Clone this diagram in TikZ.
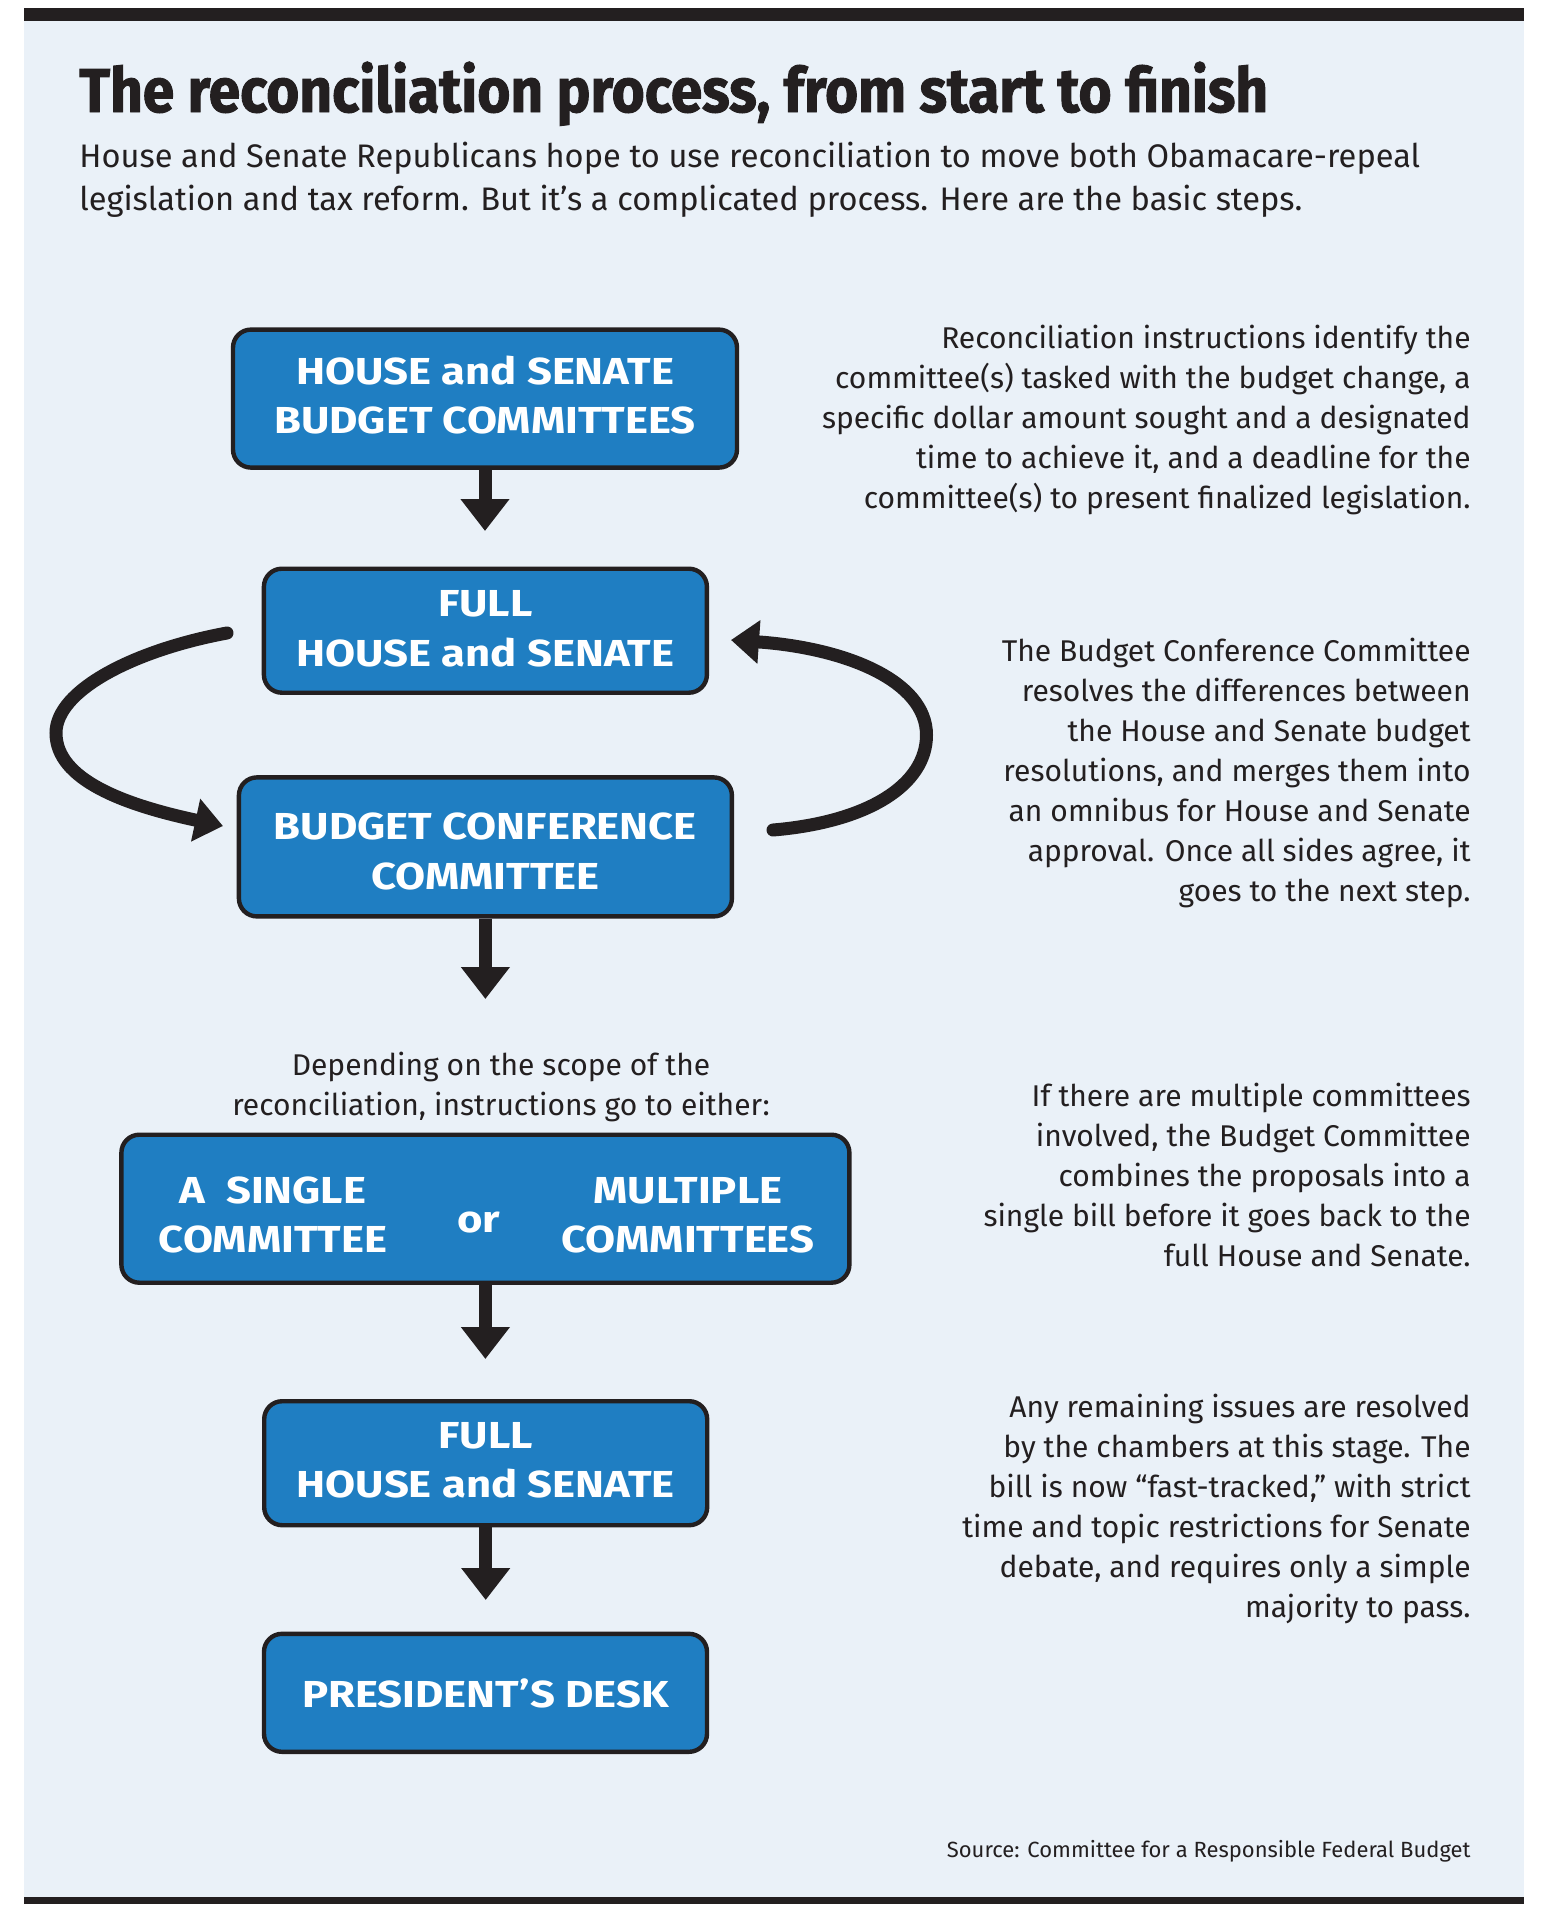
\documentclass[tikz,border=0pt]{standalone}
\usepackage{fontspec}
\setmainfont{Fira Sans}
\newfontfamily\titlefam{Fira Sans}[FakeStretch=0.916, FakeBold=1.5]
\newfontfamily\boxfam{Fira Sans}[FakeStretch=1.16]
\usetikzlibrary{arrows.meta}
\definecolor{bgblue}{HTML}{EAF1F8}
\definecolor{ink}{HTML}{231F20}
\definecolor{boxblue}{HTML}{1F7EC2}
\newcommand\boxfont{\boxfam\fontsize{18.8}{24.75}\selectfont\bfseries}
\newcommand\notefont{\fontsize{15}{20}\selectfont}
\newcommand\subfont{\fontsize{16.3}{21.5}\selectfont}
\tikzset{
  stepbox/.style={draw=ink, line width=2.2pt, fill=boxblue, rounded corners=9pt, inner sep=0pt},
  boxtext/.style={text=white, font=\boxfont, align=center, inner sep=0pt, anchor=north},
  downarrow/.style={draw=ink, line width=6.5pt, -{Triangle[width=23.5pt,length=16pt]}},
  looparrow/.style={draw=ink, line width=6.5pt, line cap=round, -{Triangle[width=21pt,length=14pt]}},
  note/.style={text=ink, font=\notefont, align=right, anchor=north east, inner sep=0pt},
}
\begin{document}
\begin{tikzpicture}[x=0.5pt,y=-0.5pt]
\useasboundingbox (0,0) rectangle (1550,1927);
\fill[white] (0,0) rectangle (1550,1927);
\fill[bgblue] (24,20) rectangle (1524,1898);
\fill[ink] (24,8) rectangle (1524,21);
\fill[ink] (24,1897) rectangle (1524,1904);

\node[anchor=base west, inner sep=0pt, text=ink, font=\titlefam\fontsize{31}{36}\selectfont\bfseries] (title) at (79,112)
  {The reconciliation process, from start to finish};
\node[anchor=north west, inner sep=0pt, align=left, text=ink, font=\subfont] (sub) at (79,137)
  {\strut House and Senate Republicans hope to use reconciliation to move both Obamacare-repeal\\
   legislation and tax reform. But it’s a complicated process. Here are the basic steps.};

% boxes
\node[stepbox, minimum width=252pt, minimum height=69pt] (b1) at (485,398.6) {};
\node[stepbox, minimum width=221.5pt, minimum height=62pt] (b2) at (485.4,630.7) {};
\node[stepbox, minimum width=246.5pt, minimum height=69.5pt] (b3) at (485.4,846.9) {};
\node[stepbox, minimum width=364pt, minimum height=74pt] (b4) at (485.4,1208.7) {};
\node[stepbox, minimum width=221.5pt, minimum height=62pt] (b5) at (485.7,1463.2) {};
\node[stepbox, minimum width=221.5pt, minimum height=59pt] (b6) at (485.5,1692.8) {};

\node[boxtext] (b1t) at (485,349) {\strut HOUSE and SENATE\\BUDGET COMMITTEES};
\node[boxtext] (b2t) at (485.4,581.5) {\strut FULL\\HOUSE and SENATE};
\node[boxtext] (b3t) at (485.4,804.5) {\strut BUDGET CONFERENCE\\COMMITTEE};
\node[boxtext] (b4l) at (273,1168) {\strut A\ \ SINGLE\\COMMITTEE};
\node[boxtext, anchor=base] (b4o) at (479,1232) {or};
\node[boxtext] (b4r) at (688,1168) {\strut MULTIPLE\\COMMITTEES};
\node[boxtext] (b5t) at (485.7,1413) {\strut FULL\\HOUSE and SENATE};
\node[boxtext] (b6t) at (485.5,1672) {\strut PRESIDENT’S DESK};

% straight arrows
\coordinate (t1) at (485,531);
\coordinate (t2) at (485.4,999);
\coordinate (t3) at (485.4,1359);
\coordinate (t4) at (485.7,1600);
\draw[downarrow] (b1.south) -- (t1);
\draw[downarrow] (b3.south) -- (t2);
\draw[downarrow] (b4.south) -- (t3);
\draw[downarrow] (b5.south) -- (t4);

% loop arrows
\coordinate (l0) at (227,633);
\coordinate (l1) at (223,826);
\coordinate (r0) at (773,830);
\coordinate (r1) at (731,640);
\draw[looparrow] (l0) .. controls (135,650) and (56,690) .. (56,733) .. controls (56,780) and (125,805) .. (l1);
\draw[looparrow] (r0) .. controls (868,822) and (926.5,785) .. (926.5,735) .. controls (926.5,681) and (846,648) .. (r1);

% depending text
\node[anchor=north, inner sep=0pt, align=center, text=ink, font=\notefont] (dep) at (501,1047.5)
  {\strut Depending on the scope of the\\reconciliation, instructions go to either:};

% notes
\node[note] (n1) at (1471,320) {\strut Reconciliation instructions identify the\\
committee(s) tasked with the budget change, a\\
specific dollar amount sought and a designated\\
time to achieve it, and a deadline for the\\
committee(s) to present finalized legislation.};
\node[note] (n2) at (1471,632.7) {\strut The Budget Conference Committee\\
resolves the differences between\\
the House and Senate budget\\
resolutions, and merges them into\\
an omnibus for House and Senate\\
approval. Once all sides agree, it\\
goes to the next step.};
\node[note] (n3) at (1471,1078.5) {\strut If there are multiple committees\\
involved, the Budget Committee\\
combines the proposals into a\\
single bill before it goes back to the\\
full House and Senate.};
\node[note] (n4) at (1471,1389) {\strut Any remaining issues are resolved\\
by the chambers at this stage. The\\
bill is now “fast-tracked,” with strict\\
time and topic restrictions for Senate\\
debate, and requires only a simple\\
majority to pass.};
\node[anchor=base east, inner sep=0pt, text=ink, font=\fontsize{11}{12}\selectfont] (src) at (1471,1857)
  {Source: Committee for a Responsible Federal Budget};
\end{tikzpicture}
\end{document}
